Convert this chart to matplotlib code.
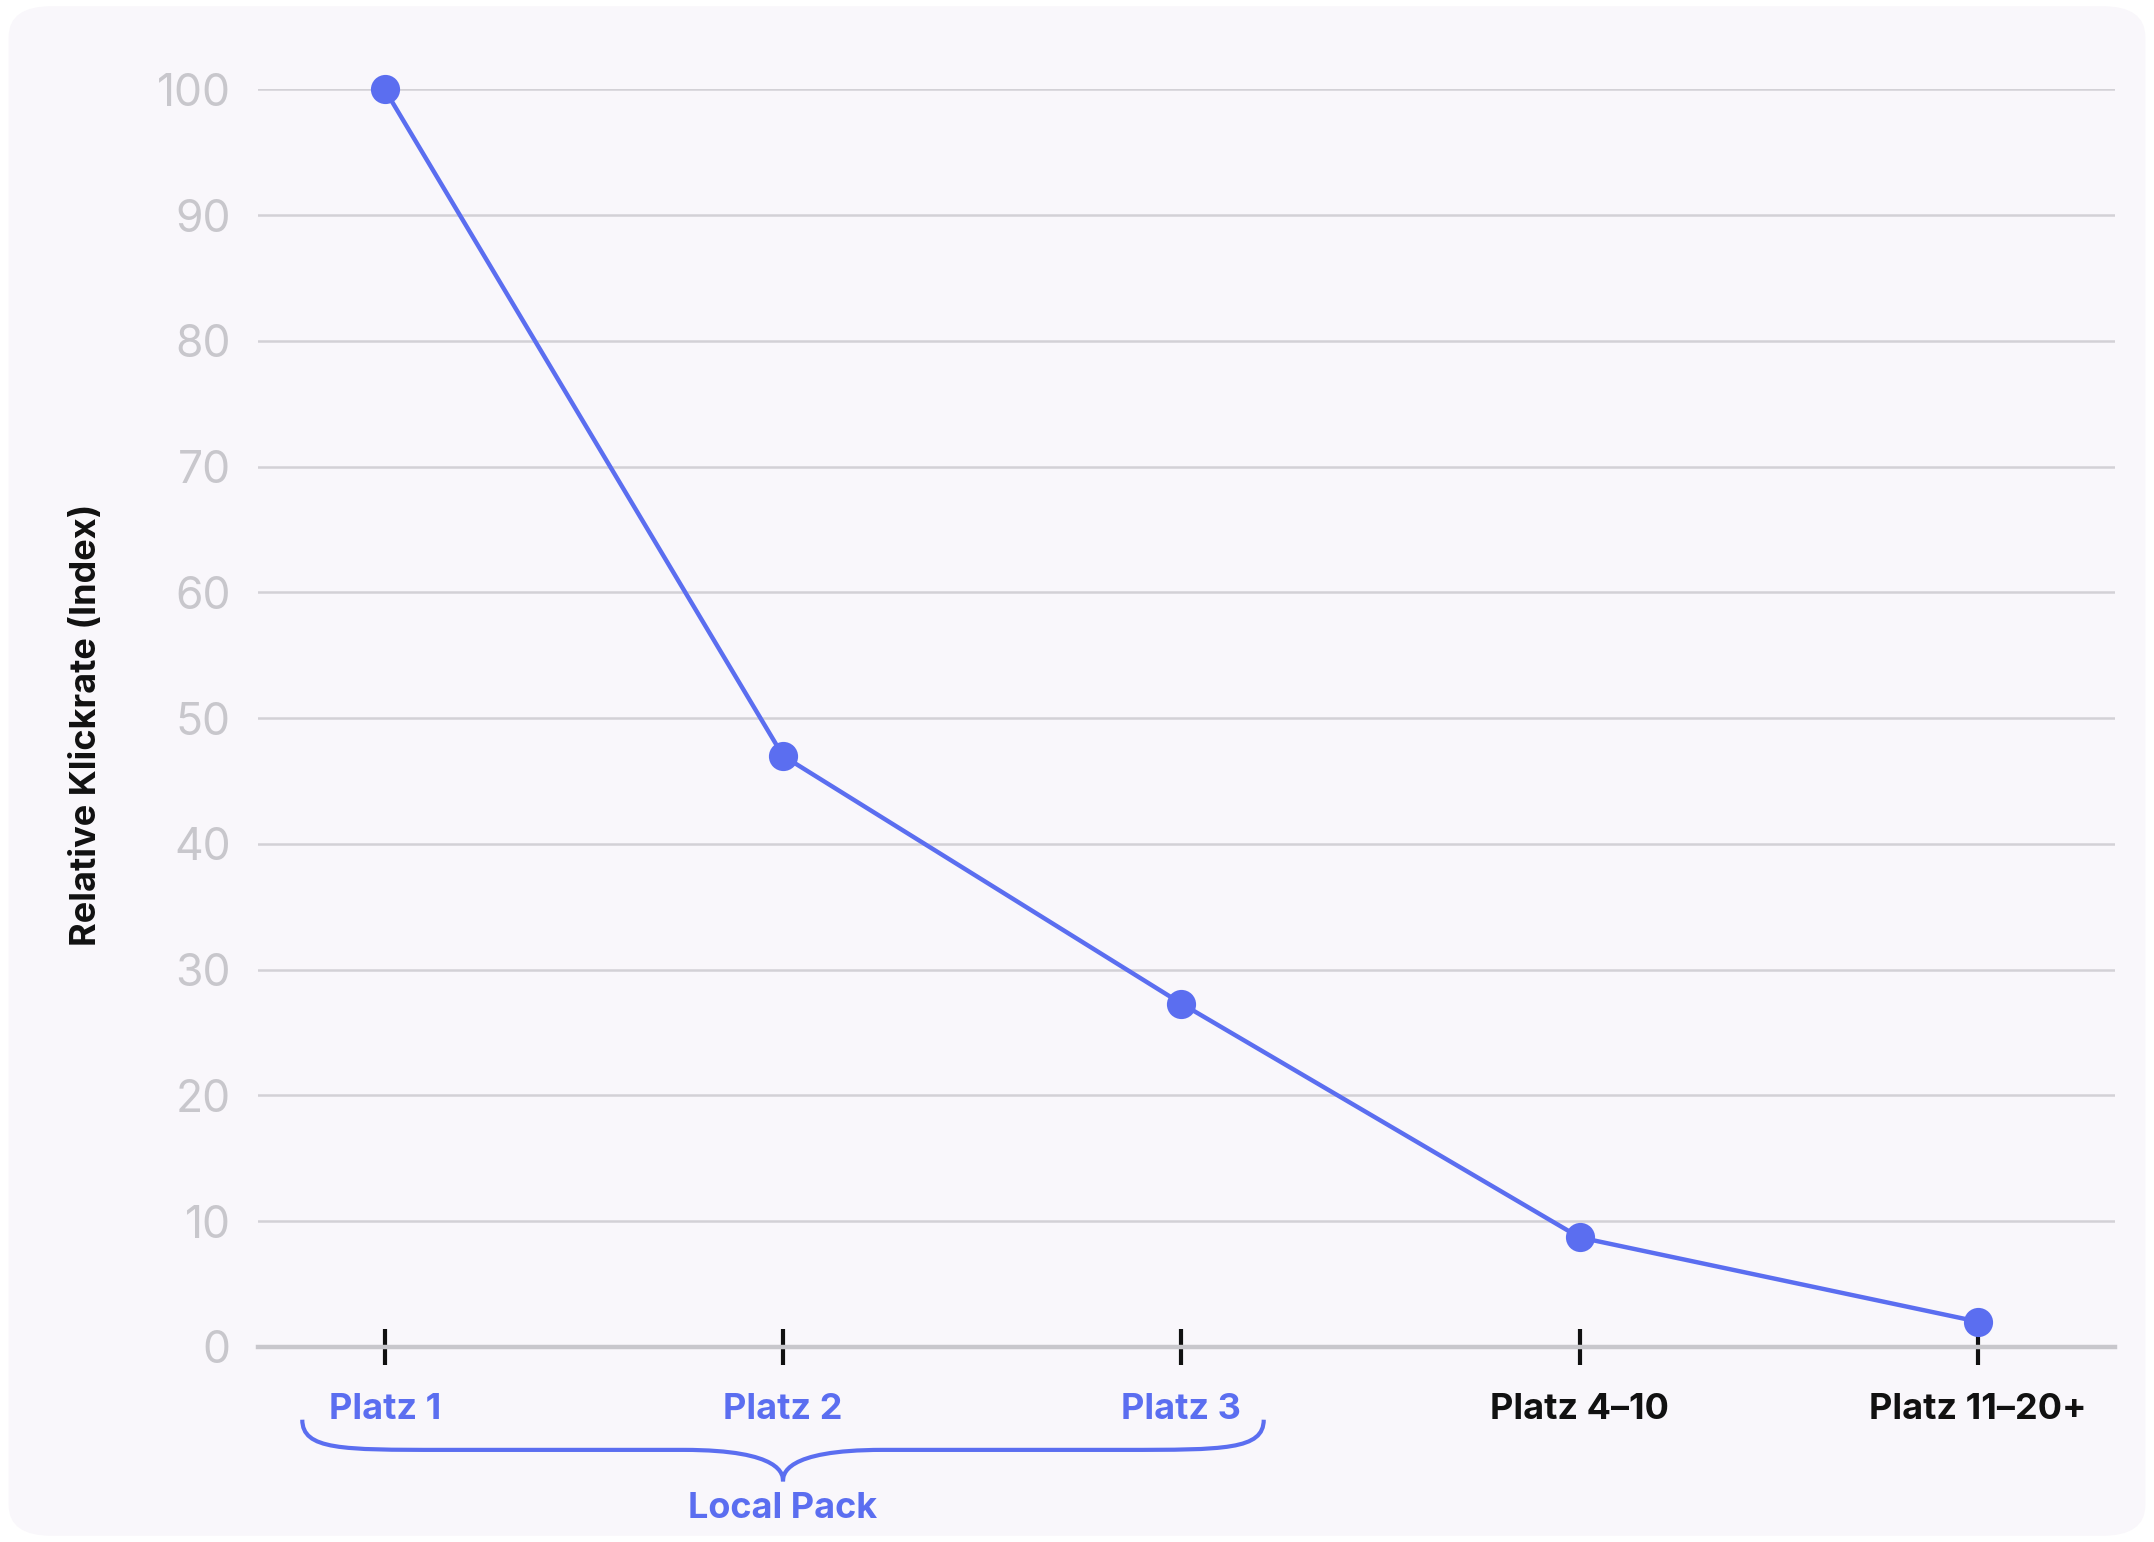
import matplotlib.pyplot as plt
from matplotlib.patches import FancyBboxPatch, PathPatch
from matplotlib.path import Path
import matplotlib.transforms as mtransforms

plt.rcParams["font.family"] = ["Inter", "DejaVu Sans"]

labels = ["Platz 1", "Platz 2", "Platz 3", "Platz 4–10", "Platz 11–20+"]
values = [100, 47, 27.3, 8.7, 2.0]
label_colors = ["#5b6ef0", "#5b6ef0", "#5b6ef0", "#111111", "#111111"]
blue = "#5b6ef0"

fig = plt.figure(figsize=(10.77, 7.71), dpi=200)
fig.patch.set_facecolor("white")
bg = FancyBboxPatch((0.004, 0.004), 0.992, 0.992, boxstyle="round,pad=0,rounding_size=0.02",
                    transform=fig.transFigure, facecolor="#f9f7fb", edgecolor="none", zorder=-10)
fig.patches.append(bg)

ax = fig.add_axes([0.12, 0.1266, 0.862, 0.8154])
ax.set_facecolor("none")
x = list(range(len(values)))
ax.plot(x, values, color=blue, lw=1.6, marker="o", markersize=9.5, clip_on=False, zorder=5)

ax.set_ylim(0, 100)
ax.set_xlim(-0.317, 4.345)
ax.set_yticks(range(0, 101, 10))
ax.grid(axis="y", color="#d3d1d6", lw=0.9)
ax.set_axisbelow(True)
for s in ["top", "right", "left"]:
    ax.spines[s].set_visible(False)
ax.spines["bottom"].set_color("#c8c7cc")
ax.spines["bottom"].set_linewidth(1.6)
ax.tick_params(axis="y", length=0, pad=10, labelsize=16, labelcolor="#c8c7cc")
ax.set_xticks(x)
ax.tick_params(axis="x", direction="inout", length=13, width=1.5, color="#111111", labelbottom=False)

for xi, lab, c in zip(x, labels, label_colors):
    ax.text(xi, -0.05, lab, transform=ax.get_xaxis_transform(), ha="center", va="center",
            fontsize=13, fontweight="bold", color=c)

# brace under the Local Pack labels
trans = mtransforms.blended_transform_factory(ax.transData, ax.transAxes)
x0, x1, xm = -0.207, 2.207, 1.0
yt, ym, yb = -0.058, -0.082, -0.107
verts = [(x0, yt), (x0, ym), (x0 + 0.15, ym), (x0 + 0.3, ym),
         (xm - 0.3, ym), (xm - 0.3, ym), (xm - 0.3, ym),
         (xm, ym), (xm, yb), (xm, yb),
         (xm, ym), (xm + 0.3, ym), (xm + 0.3, ym),
         (x1 - 0.3, ym), (x1 - 0.3, ym), (x1 - 0.15, ym),
         (x1, ym), (x1, yt)]
codes = [Path.MOVETO, Path.CURVE4, Path.CURVE4, Path.CURVE4,
         Path.LINETO, Path.CURVE4, Path.CURVE4,
         Path.CURVE4, Path.CURVE4, Path.CURVE4,
         Path.CURVE4, Path.CURVE4, Path.CURVE4,
         Path.LINETO, Path.CURVE4, Path.CURVE4,
         Path.CURVE4, Path.CURVE4]
# simpler smooth brace
verts = [(x0, yt), (x0, ym), (x0 + 0.1, ym), (x0 + 0.35, ym),
         (xm - 0.25, ym),
         (xm, ym), (xm, yb + 0.005), (xm, yb),
         (xm, yb + 0.005), (xm, ym), (xm + 0.25, ym),
         (x1 - 0.35, ym),
         (x1 - 0.1, ym), (x1, ym), (x1, yt)]
codes = [Path.MOVETO, Path.CURVE4, Path.CURVE4, Path.CURVE4,
         Path.LINETO,
         Path.CURVE4, Path.CURVE4, Path.CURVE4,
         Path.CURVE4, Path.CURVE4, Path.CURVE4,
         Path.LINETO,
         Path.CURVE4, Path.CURVE4, Path.CURVE4]
ax.add_patch(PathPatch(Path(verts, codes), transform=trans, facecolor="none",
                       edgecolor=blue, lw=1.5, clip_on=False))
ax.text(xm, -0.129, "Local Pack", transform=trans, ha="center", va="center",
        fontsize=13, fontweight="bold", color=blue)

fig.text(0.04, 0.53, "Relative Klickrate (Index)", rotation=90, ha="center", va="center",
         fontsize=13, fontweight="bold", color="#111111")

fig.savefig("out.png", dpi=200)
